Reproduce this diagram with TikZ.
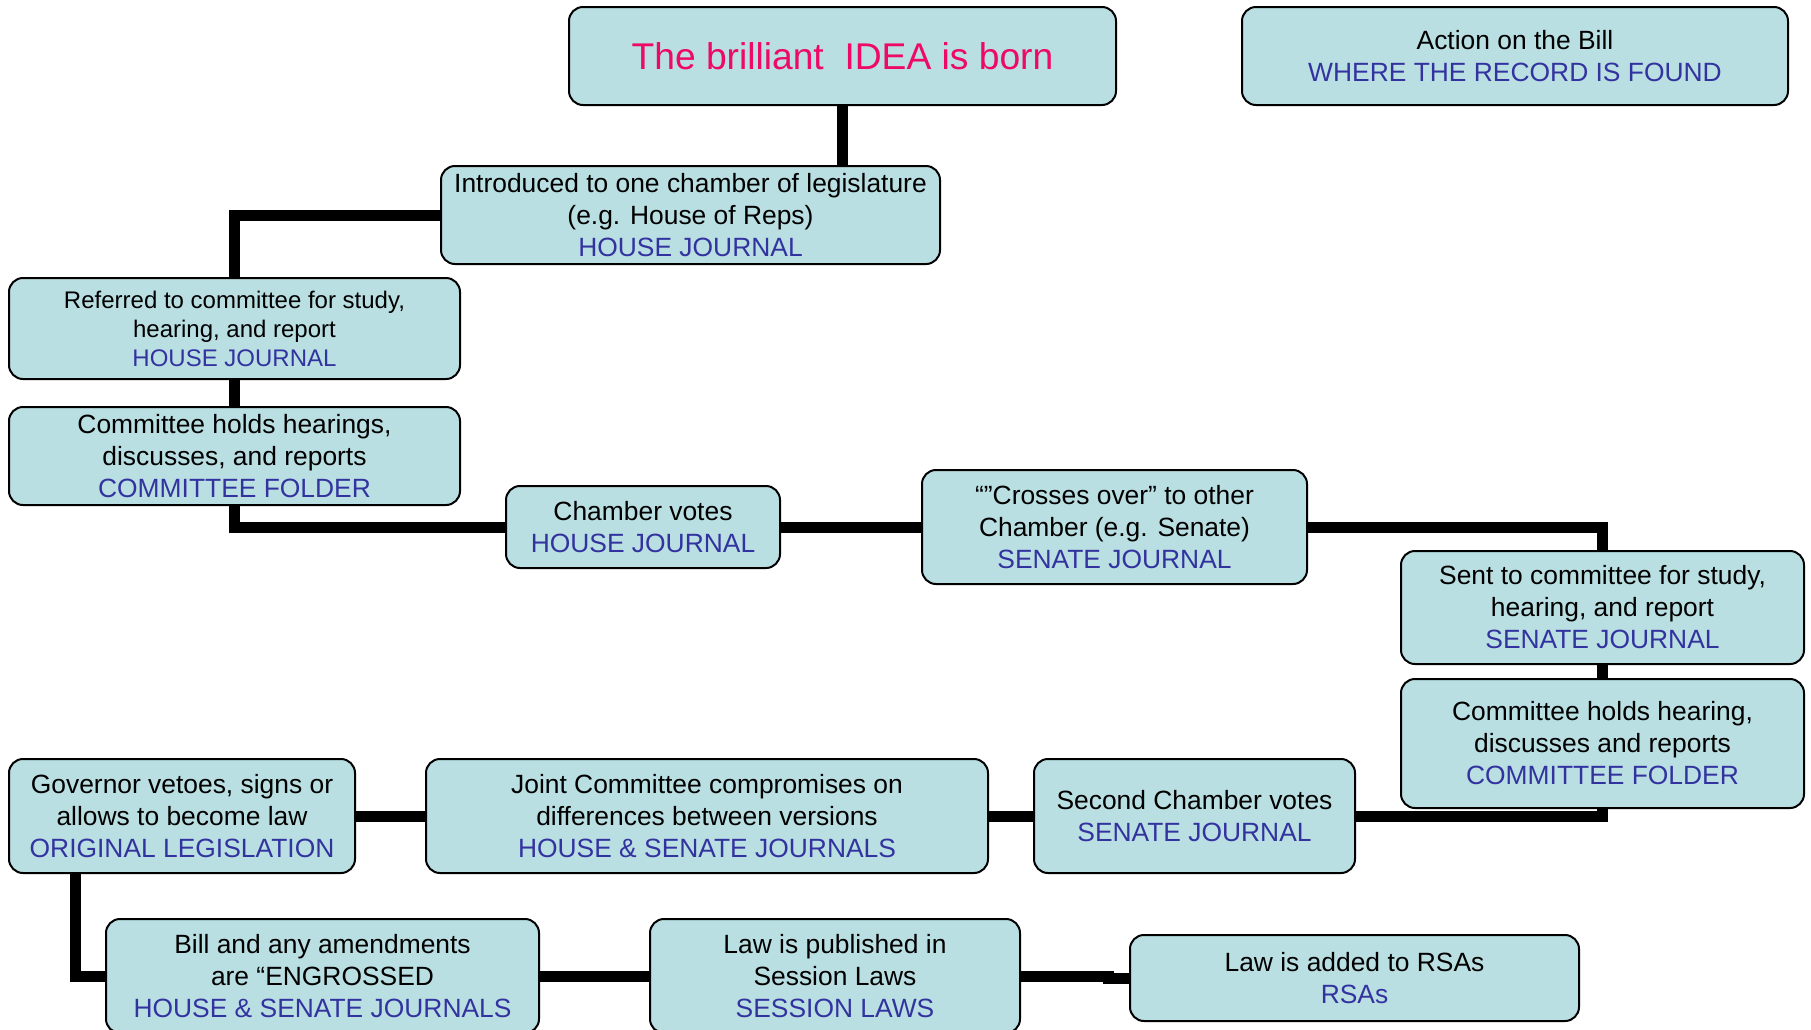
\documentclass[tikz,border=0pt]{standalone}
\usepackage{fontspec}
\setmainfont{Liberation Sans}
\usetikzlibrary{calc,backgrounds}
\definecolor{boxfill}{RGB}{185,223,226}
\definecolor{recblue}{RGB}{51,51,160}
\definecolor{ideapink}{RGB}{238,8,104}
\newcommand{\rec}[1]{{\color{recblue}#1}}
\begin{document}
\begin{tikzpicture}[x=0.5pt,y=-0.5pt,
  box/.style={draw=black, line width=1pt, rounded corners=7pt, fill=boxfill,
    align=center, inner sep=0pt, font=\fontsize{13.2}{16}\selectfont},
  link/.style={line width=5.5pt, line join=miter, black}]
\useasboundingbox (0,0) rectangle (1811,1029);
\node[box, minimum width=273.5pt, minimum height=49pt,
  font=\fontsize{18.6}{22}\selectfont] (idea) at (842.5,56)
  {\color{ideapink}The brilliant~ IDEA is born};
\node[box, minimum width=273pt, minimum height=49pt] (action) at (1515,56)
  {Action on the Bill\\ \rec{WHERE THE RECORD IS FOUND}};
\node[box, minimum width=249.5pt, minimum height=49pt] (intro) at (690.5,215)
  {Introduced to one chamber of legislature\\ (e.g. House of Reps)\\ \rec{HOUSE JOURNAL}};
\node[box, minimum width=225.5pt, minimum height=50.5pt,
  font=\fontsize{12}{14.5}\selectfont] (refer) at (234.5,328.5)
  {Referred to committee for study,\\ hearing, and report\\ \rec{HOUSE JOURNAL}};
\node[box, minimum width=225.5pt, minimum height=49pt] (comm1) at (234.5,456)
  {Committee holds hearings,\\ discusses, and reports\\ \rec{COMMITTEE FOLDER}};
\node[box, minimum width=137pt, minimum height=41pt] (vote1) at (643,527)
  {Chamber votes\\ \rec{HOUSE JOURNAL}};
\node[box, minimum width=192.5pt, minimum height=57pt] (cross) at (1114.5,527)
  {“”Crosses over” to other\\ Chamber (e.g. Senate)\\ \rec{SENATE JOURNAL}};
\node[box, minimum width=201.5pt, minimum height=56.5pt] (sent) at (1602.5,607.5)
  {Sent to committee for study,\\ hearing, and report\\ \rec{SENATE JOURNAL}};
\node[box, minimum width=201.5pt, minimum height=64.5pt] (comm2) at (1602.5,743.5)
  {Committee holds hearing,\\ discusses and reports\\ \rec{COMMITTEE FOLDER}};
\node[box, minimum width=173pt, minimum height=57pt] (gov) at (182,816)
  {Governor vetoes, signs or\\ allows to become law\\ \rec{ORIGINAL LEGISLATION}};
\node[box, minimum width=281pt, minimum height=57pt] (joint) at (707,816)
  {Joint Committee compromises on\\ differences between versions\\ \rec{HOUSE \& SENATE JOURNALS}};
\node[box, minimum width=160.5pt, minimum height=57pt] (vote2) at (1194.5,816)
  {Second Chamber votes\\ \rec{SENATE JOURNAL}};
\node[box, minimum width=216.5pt, minimum height=57pt] (bill) at (322.5,976)
  {Bill and any amendments\\ are “ENGROSSED\\ \rec{HOUSE \& SENATE JOURNALS}};
\node[box, minimum width=185pt, minimum height=57pt] (pub) at (835,976)
  {Law is published in\\ Session Laws\\ \rec{SESSION LAWS}};
\node[box, minimum width=224.5pt, minimum height=43pt] (rsa) at (1354.5,978)
  {Law is added to RSAs\\ \rec{RSAs}};
\begin{scope}[on background layer]
\draw[link] (idea.south) -- (idea.south |- intro.north);
\draw[link] (intro.west) -| (refer.north);
\draw[link] (refer.south) -- (comm1.north);
\draw[link] (comm1.south) |- (vote1.west);
\draw[link] (vote1.east) -- (cross.west);
\draw[link] (cross.east) -| (sent.north);
\draw[link] (sent.south) -- (comm2.north);
\draw[link] (comm2.south) |- (vote2.east);
\draw[link] (vote2.west) -- (joint.east);
\draw[link] (joint.west) -- (gov.east);
\coordinate (govdrop) at ($(gov.south west)+(67,0)$);
\draw[link] (govdrop) |- (bill.west);
\draw[link] (bill.east) -- (pub.west);
\coordinate (pubturn) at ($(pub.east)+(87,0)$);
\draw[link] (pub.east) -- (pubturn) |- (rsa.west);
\end{scope}
\end{tikzpicture}
\end{document}
